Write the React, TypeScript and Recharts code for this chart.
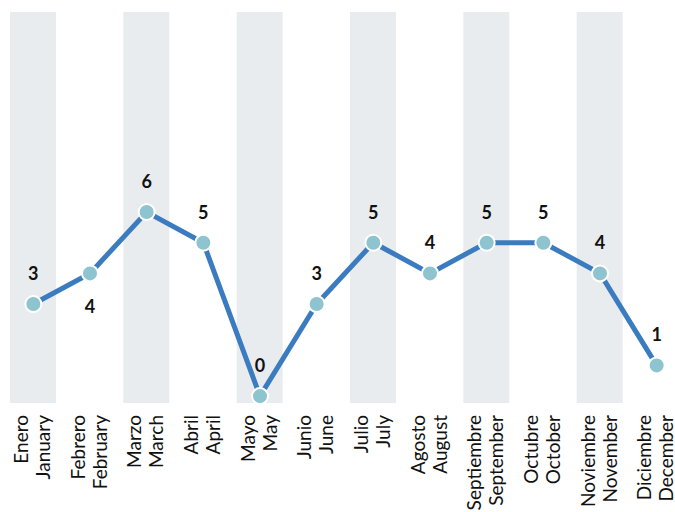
import { Bar, ComposedChart, LabelList, Line, XAxis, YAxis } from 'recharts';

const monthsEs = ['Enero', 'Febrero', 'Marzo', 'Abril', 'Mayo', 'Junio', 'Julio', 'Agosto', 'Septiembre', 'Octubre', 'Noviembre', 'Diciembre'];
const monthsEn = ['January', 'February', 'March', 'April', 'May', 'June', 'July', 'August', 'September', 'October', 'November', 'December'];
const values = [3, 4, 6, 5, 0, 3, 5, 4, 5, 5, 4, 1];
// months whose value label sits under the point
const labelBelow = ['Febrero'];

const data = monthsEs.map((es, i) => ({
  es,
  en: monthsEn[i],
  value: values[i],
  band: i % 2 === 0 ? 1 : 0,
}));

const FONT = 'Lato, "Liberation Sans", sans-serif';

function MonthTick(props: any) {
  const { x, y, payload } = props;
  const row = data[payload.index];
  const top = y + 4;
  return (
    <g transform={`translate(${x},${top}) rotate(-90)`}>
      <text x={0} y={-5.5} textAnchor="end" fontSize={19} fill="#111" fontFamily={FONT}>
        {row.es}
      </text>
      <text x={0} y={16.5} textAnchor="end" fontSize={19} fill="#111" fontFamily={FONT}>
        {row.en}
      </text>
    </g>
  );
}

function ValueLabel(props: any) {
  const { x, y, value, index } = props;
  const below = labelBelow.includes(data[index].es);
  return (
    <text
      x={x}
      y={below ? y + 33 : y - 31}
      textAnchor="middle"
      dominantBaseline="central"
      fontSize={18}
      fontWeight={700}
      fill="#111"
      fontFamily={FONT}
    >
      {value}
    </text>
  );
}

export default function App() {
  return (
    <div style={{ position: 'absolute', left: 0, top: 0, width: 675, height: 512, overflow: 'hidden', background: '#fff' }}>
      <ComposedChart width={690} height={512} data={data} margin={{ top: 12, right: 5, left: 5, bottom: 0 }}>
        <XAxis dataKey="es" interval={0} tickLine={false} axisLine={false} height={109} tick={<MonthTick />} />
        <YAxis yAxisId="band" hide domain={[0, 1]} />
        <YAxis yAxisId="val" hide domain={[-0.225, 12.52]} allowDataOverflow />
        <Bar yAxisId="band" dataKey="band" fill="#e9ecef" barSize={46} isAnimationActive={false} />
        <Line
          yAxisId="val"
          dataKey="value"
          stroke="#3b7bbf"
          strokeWidth={5}
          dot={{ r: 8, fill: '#8dc4cf', stroke: '#fff', strokeWidth: 2 }}
          isAnimationActive={false}
        >
          <LabelList dataKey="value" content={<ValueLabel />} />
        </Line>
      </ComposedChart>
    </div>
  );
}
